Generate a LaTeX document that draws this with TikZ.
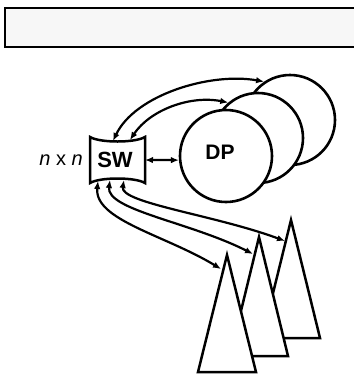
\documentclass[tikz,border=0pt]{standalone}
\usepackage{fontspec}
\setmainfont{Liberation Sans}
\usetikzlibrary{arrows.meta}
\begin{document}
\begin{tikzpicture}[x=1pt,y=-1pt,
  outline/.style={line width=2.5pt, line join=miter},
  biconn/.style={line width=2.2pt, {Latex[length=8pt,width=6.5pt]}-{Latex[length=8pt,width=6.5pt]}},
  disk/.style={circle, draw, fill=white, line width=2.6pt, minimum size=90pt, inner sep=0pt},
  lbl/.style={font=\fontsize{21}{24}\selectfont\bfseries, inner sep=0pt}
]
\useasboundingbox (0,0) rectangle (354,376);
% top bar
\draw[line width=1.4pt, fill=black!3] (5,8) rectangle (362,47);

% circles (back to front)
\node[disk] (dp3) at (290,120) {};
\node[disk] (dp2) at (258,138) {};
\node[disk, minimum size=92pt] (dp1) at (226,156) {};
\node[lbl] (dplbl) at (220,152) {DP};

% triangles (back to front)
\draw[outline, fill=white] (291,220) -- (320,338) -- (262,338) -- cycle;
\draw[outline, fill=white] (259,237) -- (288,356) -- (230,356) -- cycle;
\draw[outline, fill=white] (227,255) -- (256,372) -- (198,372) -- cycle;
\coordinate (t1) at (221,269);
\coordinate (t2) at (253,254);
\coordinate (t3) at (285,241);

% switch
\draw[outline, fill=white] (90,137) .. controls (100,143) and (135,143) .. (145,137)
  -- (145,183) .. controls (135,177) and (100,177) .. (90,183) -- cycle;
\node[lbl, font=\fontsize{22}{24}\selectfont\bfseries] (sw) at (115,160) {SW};
\node[lbl, anchor=east, font=\fontsize{20}{24}\selectfont] (nxn) at (83,160) {\itshape n\upshape\ x \itshape n};
\coordinate (swt1) at (113,141);
\coordinate (swt2) at (130,140);
\coordinate (swb1) at (98,181);
\coordinate (swb2) at (110,180);
\coordinate (swb3) at (124,180);
\coordinate (swr) at (145,160);

% connectors
\draw[biconn] (swr) -- (dp1.185);
\draw[biconn] (swt1) .. controls (135,95) and (210,72) .. (dp3.124);
\draw[biconn] (swt2) .. controls (150,110) and (190,95) .. (dp2.130);
\draw[biconn] (swb1) .. controls (94,220) and (165,235) .. (t1);
\draw[biconn] (swb2) .. controls (106,210) and (190,222) .. (t2);
\draw[biconn] (swb3) .. controls (120,203) and (215,215) .. (t3);
\end{tikzpicture}
\end{document}
